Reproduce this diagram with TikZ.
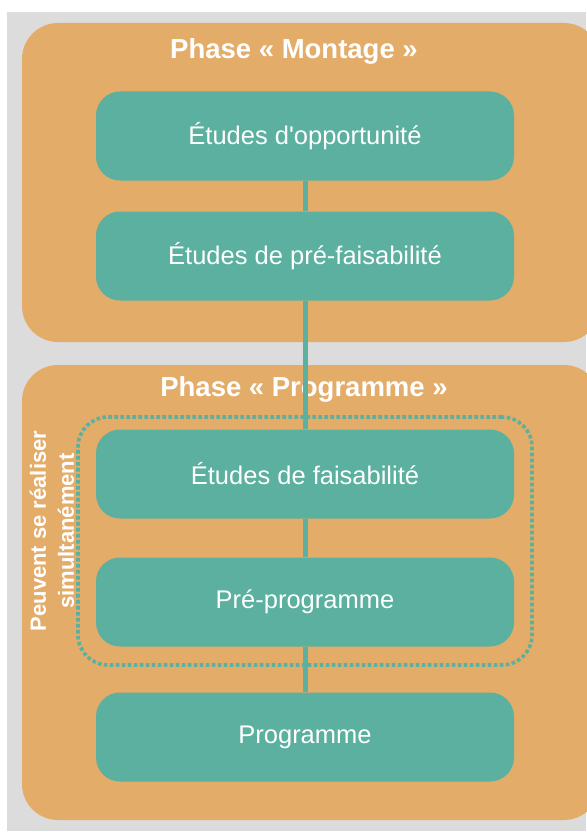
\documentclass[tikz,border=0pt]{standalone}
\usepackage{fontspec}
\setmainfont{Liberation Sans}
\definecolor{orangebg}{HTML}{E4AC69}
\definecolor{tealbox}{HTML}{5BB0A0}
\definecolor{graybg}{HTML}{DCDCDC}
\begin{document}
\begin{tikzpicture}[x=1pt,y=-1pt,
  phase/.style={fill=orangebg, rounded corners=36pt},
  stepbox/.style={fill=tealbox, rounded corners=24pt, minimum width=418pt, minimum height=89pt, text=white, font=\fontsize{25.5}{30}\selectfont, inner sep=0pt},
  title/.style={text=white, font=\bfseries\fontsize{27.5}{32}\selectfont},
  link/.style={draw=tealbox, line width=5pt}]
\useasboundingbox (0,0) rectangle (586,832);
\fill[white] (0,0) rectangle (586,832);
\fill[graybg] (7,12) rectangle (586,831);
\fill[phase] (22,23) rectangle (600,342);
\fill[phase] (22,365) rectangle (600,820);
\node[title] (t1) at (294,51) {Phase « Montage »};
\node[title] (t2) at (304,389) {Phase « Programme »};
\node[stepbox] (b1) at (305,136) {Études d\textquotesingle opportunité};
\node[stepbox] (b2) at (305,256) {Études de pré-faisabilité};
\node[stepbox] (b3) at (305,474) {Études de faisabilité};
\node[stepbox] (b4) at (305,602) {Pré-programme};
\node[stepbox] (b5) at (305,737) {Programme};
\draw[link] (b1.south) -- (b2.north);
\draw[link] (b2.south) -- (b3.north);
\draw[link] (b3.south) -- (b4.north);
\draw[link] (b4.south) -- (b5.north);
\node[draw=tealbox, line width=3.6pt, dash pattern=on 3.6pt off 2.4pt, rounded corners=30pt, minimum width=454pt, minimum height=248pt, inner sep=0pt] (grp) at (305,541) {};
\node[text=white, font=\bfseries\fontsize{22}{28}\selectfont, rotate=90, align=center] (side) at (52,531) {Peuvent se réaliser\\simultanément};
\end{tikzpicture}
\end{document}
